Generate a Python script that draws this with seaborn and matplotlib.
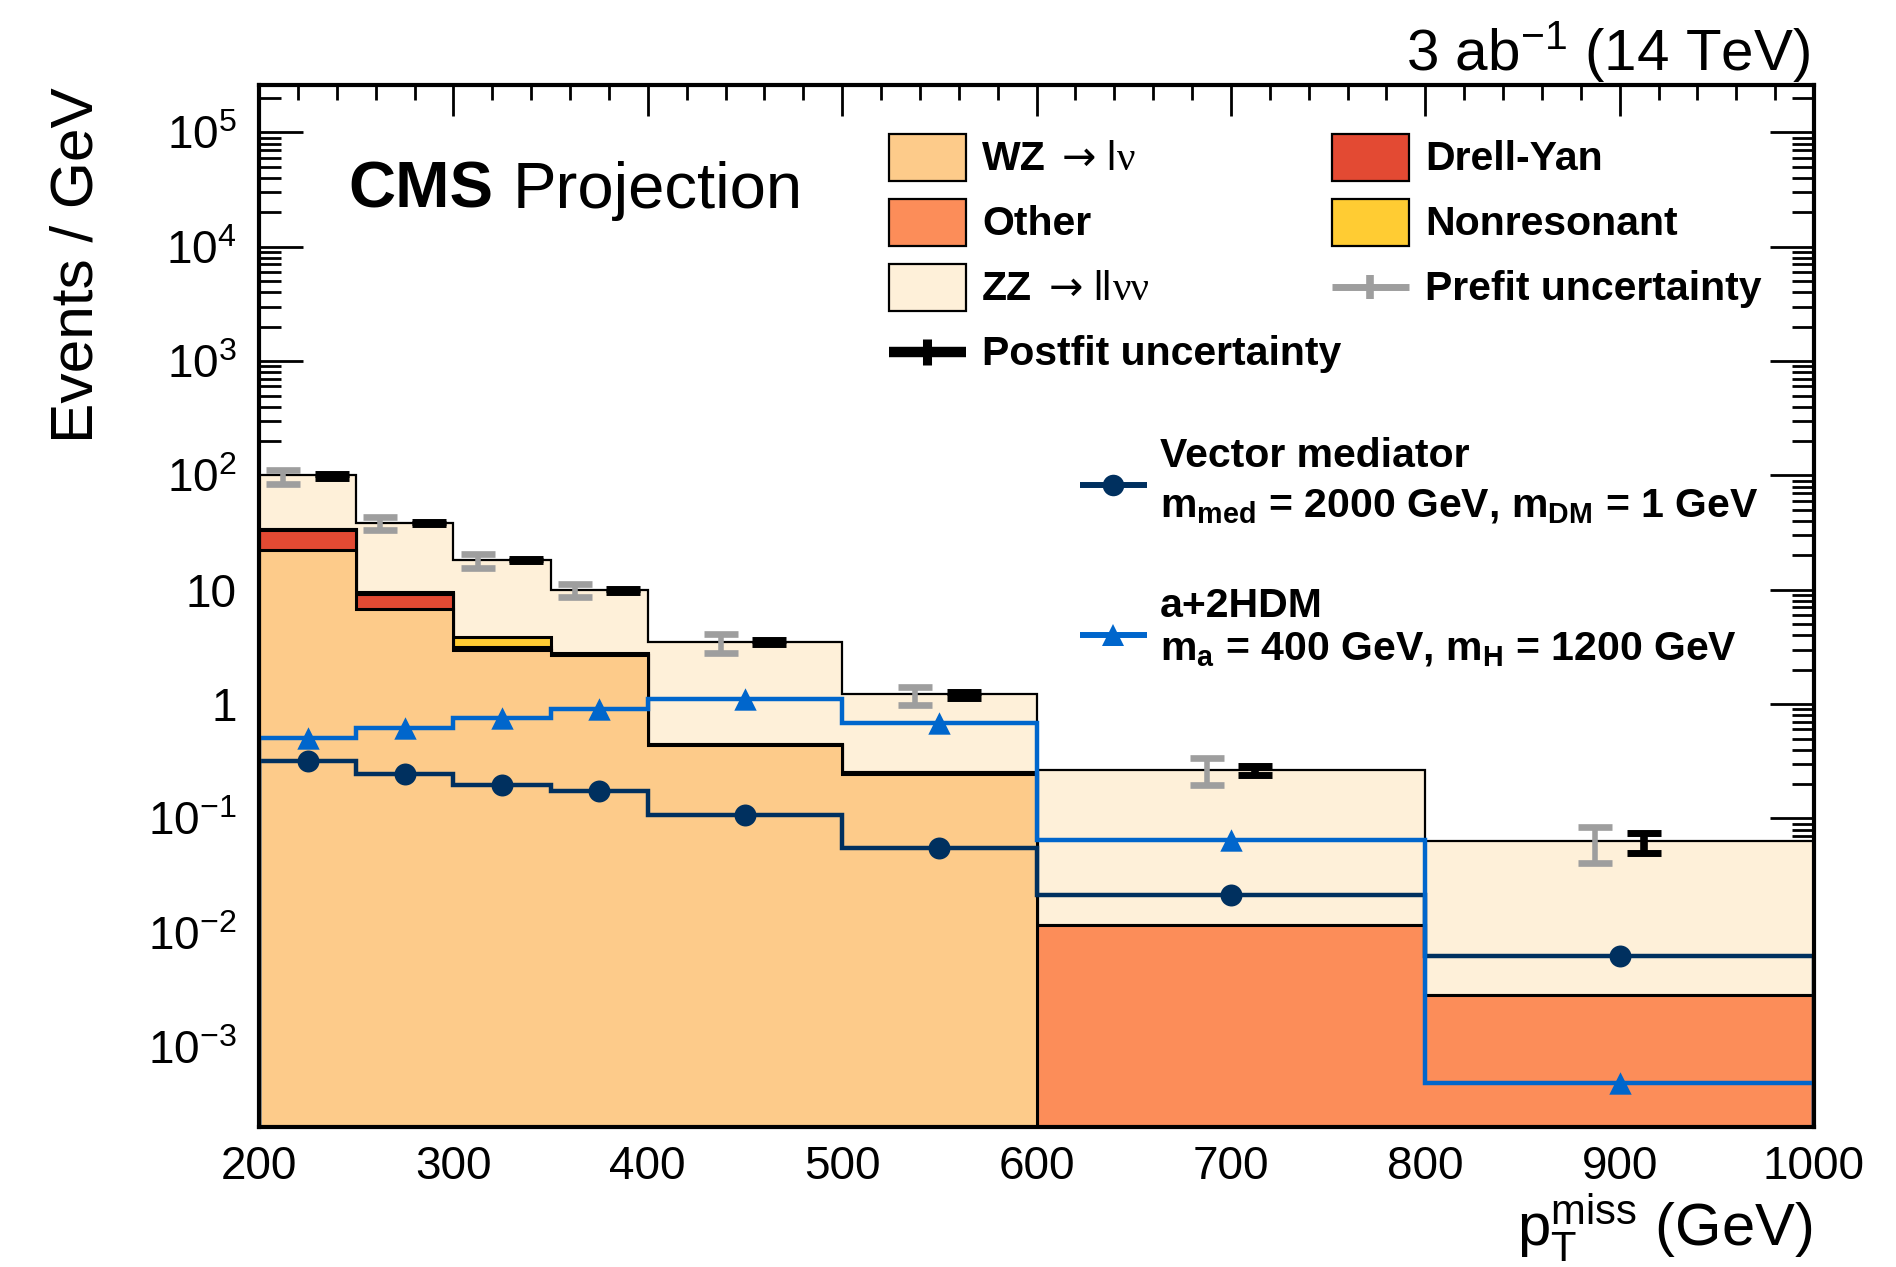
import numpy as np
import matplotlib
matplotlib.use("Agg")
import matplotlib.pyplot as plt
import seaborn as sns
from matplotlib.patches import Rectangle
from matplotlib.ticker import MultipleLocator, LogLocator, NullFormatter, FuncFormatter

# ---------------- data ----------------
bin_edges = [200, 250, 300, 350, 400, 500, 600, 800, 1000]
wz_lnu = [22.2, 6.8, 2.96, 2.68, 0.436, 0.243, 0.0, 0.0]
drell_yan = [11.0, 2.45, 0.02, 0.01, 0.003, 0.002, 0.0, 0.0]
other = [0.6, 0.2, 0.15, 0.08, 0.01, 0.008, 0.0117, 0.00285]
nonresonant = [0.4, 0.1, 0.7, 0.03, 0.003, 0.002, 0.0, 0.0]
zz_llvv = [65.8, 29.2, 14.4, 7.2, 3.03, 0.965, 0.253, 0.060]

prefit_lo = [84.0, 33.6, 15.6, 8.67, 2.82, 0.98, 0.195, 0.0405]
prefit_hi = [112.0, 43.5, 20.5, 11.2, 4.14, 1.42, 0.340, 0.0847]
postfit_lo = [95.0, 37.8, 17.7, 9.64, 3.35, 1.13, 0.239, 0.0502]
postfit_hi = [102.0, 39.2, 18.4, 10.2, 3.61, 1.28, 0.287, 0.0752]

vector_mediator = [0.318, 0.247, 0.195, 0.172, 0.107, 0.0555, 0.0215, 0.0062]
a_2hdm = [0.51, 0.622, 0.751, 0.912, 1.10, 0.689, 0.0648, 0.000488]

# ---------------- style ----------------
sns.set_theme(style="ticks")
plt.rcParams["font.family"] = ["Liberation Sans", "DejaVu Sans"]
plt.rcParams["mathtext.fontset"] = "custom"
plt.rcParams["mathtext.rm"] = "Liberation Sans"
plt.rcParams["mathtext.bf"] = "Liberation Sans:bold"
plt.rcParams["mathtext.it"] = "Liberation Sans:italic"
plt.rcParams["mathtext.sf"] = "Liberation Sans"
for k in ["text.color", "axes.labelcolor", "xtick.color", "ytick.color",
          "axes.edgecolor", "xtick.labelcolor", "ytick.labelcolor"]:
    plt.rcParams[k] = "black"

C_WZ = "#FDCB8A"
C_DY = "#E34A33"
C_OTHER = "#FC8D59"
C_NONRES = "#FFCC33"
C_ZZ = "#FEF0D9"
C_VEC = "#00305F"
C_A2H = "#0066CC"
C_PRE = "#9E9E9E"

W, H = 1896, 1267
fig = plt.figure(figsize=(W / 100, H / 100), dpi=100)
ax = fig.add_axes([259 / W, 1 - 1127 / H, (1814 - 259) / W, (1127 - 85) / H])
ax.set_yscale("log")
ymin, ymax = 2.0e-4, 2.6e5
base = ymin * 0.05

edges = np.array(bin_edges, dtype=float)
centers = 0.5 * (edges[1:] + edges[:-1])

layers = [(wz_lnu, C_WZ, 2.2), (drell_yan, C_DY, 2.2), (other, C_OTHER, 2.2),
          (nonresonant, C_NONRES, 2.2), (zz_llvv, C_ZZ, 1.6)]
cum = np.zeros(len(centers))
cums = []
for vals, col, lw in layers:
    cum = cum + np.array(vals)
    cums.append(cum.copy())
for (vals, col, lw), c in reversed(list(zip(layers, cums))):
    ax.stairs(np.clip(c, base, None), edges, baseline=base, fill=True,
              facecolor=col, edgecolor="black", linewidth=lw, zorder=1)

# uncertainties
off = 12.5
pre_lo = np.array(prefit_lo); pre_hi = np.array(prefit_hi)
pre_mid = np.sqrt(pre_lo * pre_hi)
ax.errorbar(centers - off, pre_mid, yerr=[pre_mid - pre_lo, pre_hi - pre_mid], fmt="none",
            ecolor=C_PRE, elinewidth=4.0, capsize=12.2, capthick=4.8, zorder=4)
post_lo = np.array(postfit_lo); post_hi = np.array(postfit_hi)
post_mid = np.sqrt(post_lo * post_hi)
ax.errorbar(centers + off, post_mid, yerr=[post_mid - post_lo, post_hi - post_mid], fmt="none",
            ecolor="black", elinewidth=5.5, capsize=12.2, capthick=5.0, zorder=4)

# signals
ax.stairs(vector_mediator, edges, baseline=base, fill=False, color=C_VEC, linewidth=3.2, zorder=3)
ax.stairs(a_2hdm, edges, baseline=base, fill=False, color=C_A2H, linewidth=3.2, zorder=3)
sns.scatterplot(x=centers, y=vector_mediator, marker="o", s=250, color=C_VEC,
                linewidth=0, ax=ax, zorder=5, legend=False)
sns.scatterplot(x=centers, y=a_2hdm, marker="^", s=260, color=C_A2H,
                linewidth=0, ax=ax, zorder=5, legend=False)

ax.set_xlim(edges[0], edges[-1])
ax.set_ylim(ymin, ymax)
ax.xaxis.set_major_locator(MultipleLocator(100))
ax.xaxis.set_minor_locator(MultipleLocator(20))
ax.yaxis.set_major_locator(LogLocator(base=10, numticks=30))
ax.yaxis.set_minor_locator(LogLocator(base=10, subs=np.arange(2, 10), numticks=30))
ax.yaxis.set_minor_formatter(NullFormatter())


def yfmt(v, pos):
    e = int(round(np.log10(v)))
    if e == 0:
        return "1"
    if e == 1:
        return "10"
    return r"$\mathregular{10^{%d}}$" % e


ax.yaxis.set_major_formatter(FuncFormatter(yfmt))
ax.tick_params(which="both", direction="in", top=True, right=True, width=2, colors="black",
               labelsize=33)
ax.tick_params(axis="y", which="major", length=32, pad=16)
ax.tick_params(axis="y", which="minor", length=16)
ax.tick_params(axis="x", which="major", length=22, pad=13)
ax.tick_params(axis="x", which="minor", length=11)
for s in ax.spines.values():
    s.set_linewidth(3)
    s.set_color("black")
    s.set_zorder(6)
ax.set_xlabel("")
ax.set_ylabel("")

# ---------------- overlay for texts / legend ----------------
ov = fig.add_axes([0, 0, 1, 1])
ov.set_xlim(0, W)
ov.set_ylim(H, 0)
ov.axis("off")
ov.patch.set_alpha(0)

ov.text(93, 87, "Events / GeV", rotation=90, rotation_mode="anchor", ha="right",
        va="baseline", fontsize=43.5)
ov.text(1812, 1247, r"$\mathregular{p_{T}^{miss}}$ (GeV)", ha="right", va="baseline", fontsize=43)
ov.text(1810, 70, r"3 ab$^{\mathregular{-1}}$ (14 TeV)", ha="right", va="baseline", fontsize=42)
ov.text(348, 208, "CMS", fontweight="bold", fontsize=47, va="baseline")
ov.text(513, 208, "Projection", fontsize=47, va="baseline")

renderer = fig.canvas.get_renderer()


def right_edge(t):
    bb = t.get_window_extent(renderer)
    return ov.transData.inverted().transform((bb.x1, bb.y0))[0]


rows = [157, 222, 287, 352]
cols = [889, 1332]
bw, bh = 77, 47
fs = 29.5
entries = [
    (0, 0, "box", C_WZ, "WZ", (1062, "l", "\u03bd")),
    (0, 1, "box", C_DY, "Drell-Yan", None),
    (1, 0, "box", C_OTHER, "Other", None),
    (1, 1, "box", C_NONRES, "Nonresonant", None),
    (2, 0, "box", C_ZZ, "ZZ", (1049, "ll", "\u03bd\u03bd")),
    (2, 1, "pre", C_PRE, "Prefit uncertainty", None),
    (3, 0, "post", "black", "Postfit uncertainty", None),
]
for r, c, kind, col, lab, decay in entries:
    x0 = cols[c]
    yc = rows[r]
    if kind == "box":
        ov.add_patch(Rectangle((x0, yc - bh / 2), bw, bh, facecolor=col, edgecolor="black", linewidth=1.6))
    elif kind == "pre":
        ov.plot([x0, x0 + bw], [yc, yc], color=col, lw=5, solid_capstyle="butt")
        ov.plot([x0 + bw / 2, x0 + bw / 2], [yc - 12, yc + 12], color=col, lw=5.5, solid_capstyle="butt")
    else:
        ov.plot([x0, x0 + bw], [yc, yc], color=col, lw=7.5, solid_capstyle="butt")
        ov.plot([x0 + bw / 2, x0 + bw / 2], [yc - 13, yc + 13], color=col, lw=6.5, solid_capstyle="butt")
    ov.text(x0 + bw + 16, yc + 13, lab, fontsize=fs, fontweight="bold", va="baseline", ha="left")
    if decay is not None:
        xa, lpart, nupart = decay
        ta = ov.text(xa, yc + 13, "\u2192", fontsize=fs, va="baseline", ha="left",
                     family=["DejaVu Sans"])
        tl = ov.text(right_edge(ta) + 10, yc + 13, lpart, fontsize=fs, va="baseline", ha="left",
                     family=["Liberation Sans"])
        ov.text(right_edge(tl) + 1, yc + 13, nupart, fontsize=fs, va="baseline", ha="left",
                family=["Liberation Serif", "DejaVu Serif"])

# signal legend
for yl, col, mk, l1, l1y, l2, l2y in [
    (485, C_VEC, "o", "Vector mediator", 467,
     r"m$_{\mathbf{med}}$ = 2000 GeV, m$_{\mathbf{DM}}$ = 1 GeV", 517),
    (635, C_A2H, "^", "a+2HDM", 617,
     r"m$_{\mathbf{a}}$ = 400 GeV, m$_{\mathbf{H}}$ = 1200 GeV", 660),
]:
    ov.plot([1080, 1147], [yl, yl], color=col, lw=4.3, solid_capstyle="butt")
    ov.plot([1113.5], [yl], marker=mk, color=col, markersize=15.5, markeredgewidth=0)
    ov.text(1160, l1y, l1, fontsize=fs, fontweight="bold", va="baseline", ha="left")
    ov.text(1160, l2y, l2, fontsize=fs, fontweight="bold", va="baseline", ha="left")

fig.savefig("out.png", dpi=100)
